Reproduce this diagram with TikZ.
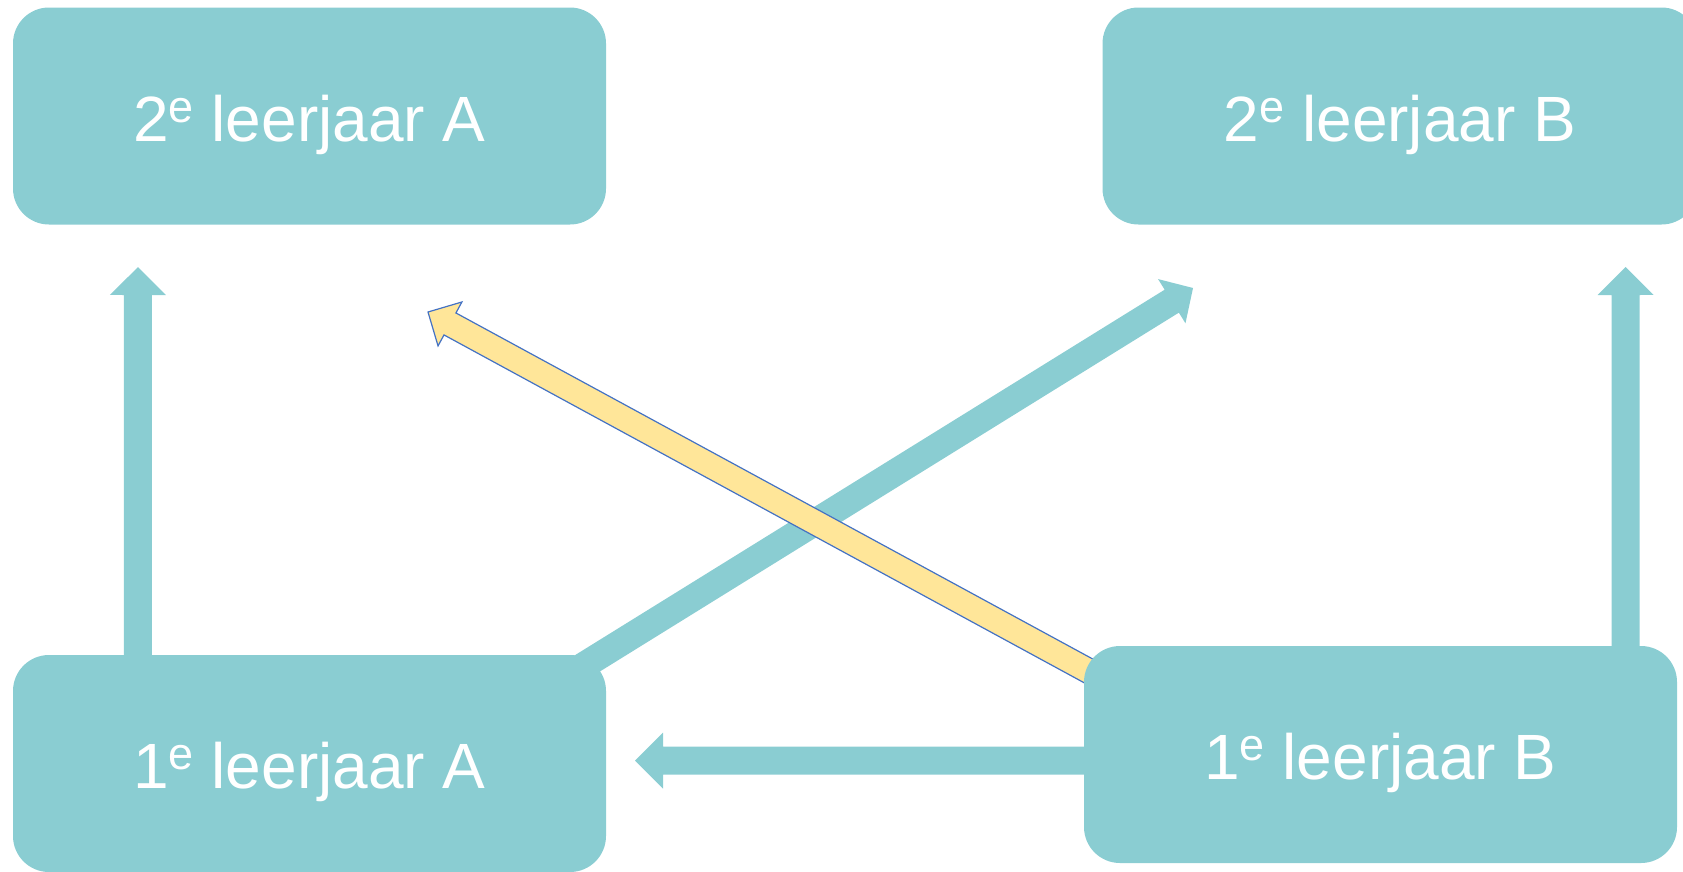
\documentclass[tikz,border=0pt]{standalone}
\usepackage{fontspec}
\setmainfont{Liberation Sans}
\usetikzlibrary{calc}
\pgfdeclarelayer{bg}
\pgfsetlayers{bg,main}
\definecolor{tealfill}{HTML}{8ACDD2}
\definecolor{yelfill}{HTML}{FFE699}
\definecolor{bluline}{HTML}{4472C4}
\newcommand\ordsup[1]{\raisebox{19pt}{\fontsize{45}{48}\selectfont #1}}
% #1 style, #2 tail, #3 tip, #4 half shaft, #5 half head, #6 head length
\newcommand\blockarrow[6]{%
  \coordinate (ba-h) at ($(#3)!#6!(#2)$);
  \path[#1] ($(#2)!#4!90:(#3)$) -- ($(ba-h)!#4!90:(#3)$) -- ($(ba-h)!#5!90:(#3)$)
    -- (#3) -- ($(ba-h)!#5!-90:(#3)$) -- ($(ba-h)!#4!-90:(#3)$) -- ($(#2)!#4!-90:(#3)$) -- cycle;}
\begin{document}
\begin{tikzpicture}[x=1pt,y=-1pt,
  box/.style={fill=tealfill, rounded corners=36pt, minimum width=593pt, minimum height=217pt,
    inner sep=0pt, text=white, font=\fontsize{64}{70}\selectfont, text height=50pt, text depth=0pt},
  tealarrow/.style={fill=tealfill},
  yelarrow/.style={fill=yelfill, draw=bluline, line width=1.2pt, line join=miter}]
\useasboundingbox (0,0) rectangle (1683,871);
\node[box] (2A) at (309.5,116) {2\ordsup{e} leerjaar A};
\node[box, minimum width=595pt] (2B) at (1400,116) {2\ordsup{e} leerjaar B};
\node[box] (1A) at (309.5,763.5) {1\ordsup{e} leerjaar A};
\node[box] (1B) at (1380.5,754.5) {1\ordsup{e} leerjaar B};
\begin{pgfonlayer}{bg}
  \coordinate (tailA) at ($(1A.north west)+(125,10)$);
  \coordinate (tipA) at (138,267);
  \coordinate (tailB) at ($(1B.north east)+(-51.5,10)$);
  \coordinate (tipB) at (1625.5,267);
  \coordinate (tailH) at ($(1B.west)+(10,6)$);
  \coordinate (tipH) at (635,760.5);
  \coordinate (tailD) at ($(1A.north east)+(-26,13)$);
  \coordinate (tipD) at (1193,288);
  \coordinate (tailY) at ($(1B.north west)+(10,28)$);
  \coordinate (tipY) at (428,312);
  \blockarrow{tealarrow}{tailA}{tipA}{14pt}{28pt}{28pt}
  \blockarrow{tealarrow}{tailB}{tipB}{14pt}{28pt}{28pt}
  \blockarrow{tealarrow}{tailH}{tipH}{14pt}{28pt}{28pt}
  \blockarrow{tealarrow}{tailD}{tipD}{13.5pt}{26pt}{25pt}
  \blockarrow{yelarrow}{tailY}{tipY}{12.5pt}{25pt}{25pt}
\end{pgfonlayer}
\end{tikzpicture}
\end{document}
